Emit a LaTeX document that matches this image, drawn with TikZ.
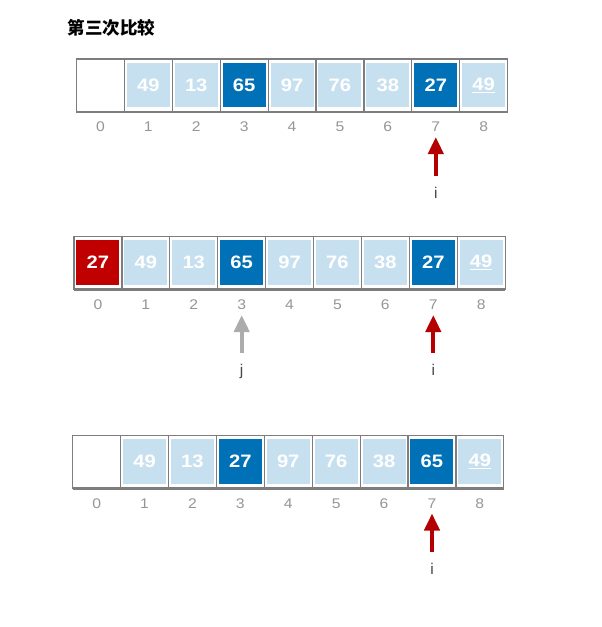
\documentclass[tikz,border=0pt]{standalone}
\usepackage{fontspec}
\setmainfont{Liberation Sans}
\newfontfamily\numfont{Liberation Sans}[FakeStretch=1.12]
\newfontfamily\cjk{Noto Sans CJK SC}
\usetikzlibrary{arrows.meta}
\definecolor{lightb}{RGB}{199,224,240}
\definecolor{darkb}{RGB}{0,112,183}
\definecolor{redc}{RGB}{192,0,0}
\definecolor{arrred}{RGB}{180,0,0}
\definecolor{arrgray}{RGB}{172,172,172}
\definecolor{framegray}{RGB}{125,125,125}
\definecolor{idxgray}{RGB}{150,150,150}
\definecolor{ptrtext}{RGB}{70,70,70}
\def\cw{47.9}
\tikzset{
  cellbox/.style={minimum width=43pt, minimum height=44.5pt, inner sep=0pt, text=white,
    font=\numfont\bfseries\fontsize{18}{18}\selectfont},
  lb/.style={fill=lightb}, db/.style={fill=darkb}, rd/.style={fill=redc}, wh/.style={fill=white},
  idx/.style={text=idxgray, font=\numfont\fontsize{14}{14}\selectfont, inner sep=0pt},
  ptr/.style={text=ptrtext, font=\fontsize{15.5}{15.5}\selectfont, inner sep=0pt, anchor=base},
  frame/.style={draw=framegray, line width=1.2pt},
  framebot/.style={draw=framegray, line width=2.2pt},
  redarrow/.style={draw=arrred, line width=4pt, -{Triangle[width=15pt,length=17pt]}},
  grayarrow/.style={draw=arrgray, line width=4pt, -{Triangle[width=15pt,length=17pt]}},
  title/.style={font=\cjk\bfseries\fontsize{17.5}{17.5}\selectfont, inner sep=0pt}
}
\newcommand{\arrayrow}[4]{%
  \foreach \v/\s [count=\k from 0] in {#4} {
    \node[cellbox,\s] (#1c\k) at ({#2+(\k+0.5)*\cw},{#3+26}) {\v};
    \node[idx] (#1i\k) at ({#2+(\k+0.5)*\cw},{#3+68}) {\k};
  }
  \draw[frame] (#2,#3) rectangle ({#2+9*\cw},{#3+53});
  \foreach \k in {1,...,8} \draw[frame] ({#2+\k*\cw},#3) -- ({#2+\k*\cw},{#3+53});
  \draw[framebot] (#2,{#3+53}) -- ({#2+9*\cw},{#3+53});
}
\begin{document}
\begin{tikzpicture}[x=1pt,y=-1pt]
\useasboundingbox[fill=white] (0,0) rectangle (602,627);
\node[title] (title) at (111.5,27.5) {第三次比较};
% row 1
\arrayrow{ra}{76.5}{59}{{}/wh, 49/lb, 13/lb, 65/db, 97/lb, 76/lb, 38/lb, 27/db, {\underline{49}}/lb}
% row 2
\arrayrow{rb}{74}{236.5}{27/rd, 49/lb, 13/lb, 65/db, 97/lb, 76/lb, 38/lb, 27/db, {\underline{49}}/lb}
% row 3
\arrayrow{rc}{72.7}{435.5}{{}/wh, 49/lb, 13/lb, 27/db, 97/lb, 76/lb, 38/lb, 65/db, {\underline{49}}/lb}
% pointers row 1
\coordinate (a1tail) at (435.8,176);
\coordinate (a1tip) at (435.8,137);
\draw[redarrow] (a1tail) -- (a1tip);
\node[ptr] (i1) at (435.8,198) {i};
% pointers row 2
\coordinate (a2tail) at (433.3,353);
\coordinate (a2tip) at (433.3,315);
\draw[redarrow] (a2tail) -- (a2tip);
\node[ptr] (i2) at (433.3,375) {i};
\coordinate (g2tail) at (241.7,353);
\coordinate (g2tip) at (241.7,315);
\draw[grayarrow] (g2tail) -- (g2tip);
\node[ptr] (j2) at (241.7,375) {j};
% pointers row 3
\coordinate (a3tail) at (432,552);
\coordinate (a3tip) at (432,513.5);
\draw[redarrow] (a3tail) -- (a3tip);
\node[ptr] (i3) at (432,574) {i};
\end{tikzpicture}
\end{document}
